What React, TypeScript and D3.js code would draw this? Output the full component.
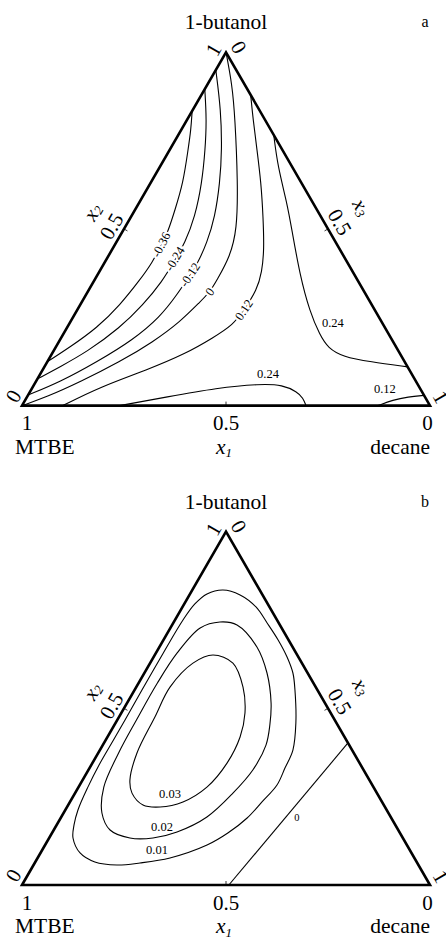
import React from 'react';
import * as d3 from 'd3';

// every point is a composition [x2 (1-butanol), x3 (decane)], x1 = 1 - x2 - x3

// panel a contour lines
const aLevelM036 = [[0.834, 0], [0.78, 0.024], [0.724, 0.045], [0.63, 0.08], [0.554, 0.098], [0.492, 0.112], [0.455, 0.114], [0.404, 0.117], [0.356, 0.111], [0.285, 0.098], [0.22, 0.074], [0.166, 0.035], [0.124, 0]];
const aLevelM024 = [[0.896, 0], [0.809, 0.048], [0.724, 0.087], [0.63, 0.126], [0.534, 0.157], [0.4605, 0.169], [0.412, 0.169], [0.35, 0.168], [0.285, 0.154], [0.22, 0.13], [0.152, 0.083], [0.1095, 0.038], [0.0756, 0]];
const aLevelM012 = [[0.95, 0], [0.837, 0.069], [0.724, 0.128], [0.63, 0.17], [0.534, 0.206], [0.4605, 0.223], [0.404, 0.229], [0.37, 0.227], [0.313, 0.223], [0.251, 0.213], [0.186, 0.179], [0.124, 0.122], [0.067, 0.06], [0.03, 0]];
const aLevel0 = [[1, 0], [0.908, 0.061], [0.817, 0.1135], [0.63, 0.214], [0.497, 0.2785], [0.421, 0.299], [0.356, 0.3], [0.322, 0.3], [0.2935, 0.2895], [0.237, 0.269], [0.18, 0.231], [0.124, 0.178], [0.067, 0.109], [0.0246, 0.049], [0, 0]];
const aLevel012 = [[0.879, 0.121], [0.809, 0.162], [0.724, 0.214], [0.63, 0.271], [0.534, 0.324], [0.441, 0.373], [0.378, 0.399], [0.3275, 0.412], [0.271, 0.409], [0.228, 0.403], [0.192, 0.372], [0.149, 0.33], [0.101, 0.256], [0.053, 0.165], [0, 0.1]];
const aLevel024 = [[0.766, 0.234], [0.676, 0.289], [0.574, 0.3625], [0.497, 0.413], [0.37, 0.496], [0.265, 0.573], [0.2, 0.63], [0.163, 0.6685], [0.138, 0.718], [0.124, 0.791], [0.1095, 0.8905]];
const aLevel024Low = [[0, 0.24], [0.0246, 0.343], [0.05, 0.453], [0.0614, 0.553], [0.0586, 0.61], [0.0388, 0.655], [0.0218, 0.678], [0, 0.696]];
const aLevel012Low = [[0, 0.8725], [0.016, 0.901], [0.0246, 0.934], [0.029, 0.971]];

const aLabels = ['-0.36', '-0.24', '-0.12', '0', '0.12', '0.24', '0.24', '0.12'];
const aLabelAt = [[0.455, 0.114], [0.415, 0.1675], [0.37, 0.227], [0.322, 0.3], [0.271, 0.409], [0.234, 0.645], [0.0897, 0.558], [0.047, 0.866]];

// panel b contour lines (three closed loops and one straight zero line)
const bLevel001 = [[0.835, 0.075], [0.821, 0.124], [0.787, 0.18], [0.7416, 0.23], [0.6935, 0.281], [0.6453, 0.327], [0.6, 0.364], [0.552, 0.393], [0.4585, 0.442], [0.382, 0.473], [0.331, 0.479], [0.283, 0.4835], [0.235, 0.4707], [0.1896, 0.457], [0.147, 0.431], [0.113, 0.397], [0.0764, 0.3245], [0.0623, 0.258], [0.0566, 0.2045], [0.0651, 0.146], [0.0906, 0.097], [0.133, 0.0585], [0.17, 0.0425], [0.2123, 0.031], [0.277, 0.023], [0.3397, 0.019], [0.4104, 0.019], [0.467, 0.019], [0.552, 0.018], [0.6567, 0.018], [0.75, 0.0196], [0.7954, 0.026], [0.8237, 0.0416]];
const bLevel002 = [[0.7444, 0.113], [0.736, 0.159], [0.6736, 0.239], [0.6, 0.3005], [0.515, 0.353], [0.453, 0.381], [0.396, 0.4], [0.3255, 0.403], [0.26, 0.387], [0.1925, 0.357], [0.15, 0.305], [0.133, 0.2545], [0.133, 0.198], [0.1557, 0.138], [0.2038, 0.094], [0.277, 0.062], [0.3736, 0.05], [0.467, 0.047], [0.5717, 0.046], [0.6567, 0.052], [0.7274, 0.073]];
const bLevel003 = [[0.651, 0.1427], [0.628, 0.203], [0.56, 0.2617], [0.487, 0.303], [0.419, 0.325], [0.345, 0.33], [0.277, 0.3147], [0.235, 0.277], [0.2208, 0.228], [0.2264, 0.1834], [0.26, 0.1396], [0.297, 0.116], [0.3736, 0.095], [0.4755, 0.088], [0.56, 0.0827], [0.628, 0.105]];
const bLevel0 = [[0, 0.507], [0.402, 0.598]];

const bLabels = ['0.03', '0.02', '0.01', '0'];
const bLabelAt = [[0.2576, 0.234], [0.164, 0.261], [0.099, 0.2814], [0.191, 0.578]];

const tickValues = [0, 0.5, 1];
const tickText = ['0', '0.5', '1'];

const SIDE = 408;
const LEFT = 22;
const H = (SIDE * Math.sqrt(3)) / 2;
const serif = "'Liberation Serif', 'DejaVu Serif', 'Times New Roman', serif";

type Pt = number[];
type Contour = { points: Pt[]; closed?: boolean; label: string; at: Pt; along?: boolean; size?: number };

const aContours: Contour[] = [
  { points: aLevelM036, label: aLabels[0], at: aLabelAt[0], along: true },
  { points: aLevelM024, label: aLabels[1], at: aLabelAt[1], along: true },
  { points: aLevelM012, label: aLabels[2], at: aLabelAt[2], along: true },
  { points: aLevel0, label: aLabels[3], at: aLabelAt[3], along: true },
  { points: aLevel012, label: aLabels[4], at: aLabelAt[4], along: true },
  { points: aLevel024, label: aLabels[5], at: aLabelAt[5] },
  { points: aLevel024Low, label: aLabels[6], at: aLabelAt[6] },
  { points: aLevel012Low, label: aLabels[7], at: aLabelAt[7] },
];

const bContours: Contour[] = [
  { points: bLevel003, closed: true, label: bLabels[0], at: bLabelAt[0] },
  { points: bLevel002, closed: true, label: bLabels[1], at: bLabelAt[1] },
  { points: bLevel001, closed: true, label: bLabels[2], at: bLabelAt[2] },
  { points: bLevel0, label: bLabels[3], at: bLabelAt[3], size: 10.5 },
];

const Panel = ({ base, letter, contours }: { base: number; letter: string; contours: Contour[] }) => {
  const x = d3.scaleLinear().domain([0, 1]).range([LEFT, LEFT + SIDE]);
  const y = d3.scaleLinear().domain([0, 1]).range([base, base - H]);
  const proj = (d: Pt): [number, number] => [x(d[1] + d[0] / 2), y(d[0])];

  const openLine = d3.line<Pt>().x(d => proj(d)[0]).y(d => proj(d)[1]).curve(d3.curveBasis);
  const closedLine = d3.line<Pt>().x(d => proj(d)[0]).y(d => proj(d)[1]).curve(d3.curveCatmullRomClosed.alpha(0.5));

  const angleAt = (pts: Pt[], at: Pt) => {
    const pp = pts.map(proj);
    const c = proj(at);
    let bi = 0;
    let bd = Infinity;
    pp.forEach((p, i) => {
      const dd = (p[0] - c[0]) ** 2 + (p[1] - c[1]) ** 2;
      if (dd < bd) { bd = dd; bi = i; }
    });
    const a = pp[Math.max(0, bi - 1)];
    const b = pp[Math.min(pp.length - 1, bi + 1)];
    let ang = (Math.atan2(b[1] - a[1], b[0] - a[0]) * 180) / Math.PI;
    if (ang > 90) ang -= 180;
    if (ang < -90) ang += 180;
    return ang;
  };

  const A = proj([0, 0]);
  const B = proj([1, 0]);
  const C = proj([0, 1]);
  const top = B[1];

  // outward normals and reading directions of the two slanted sides
  const nL = [-Math.sqrt(3) / 2, -0.5];
  const tL = [0.5, -Math.sqrt(3) / 2];
  const nR = [Math.sqrt(3) / 2, -0.5];
  const tR = [0.5, Math.sqrt(3) / 2];
  const off = (p: number[], n: number[], t: number[], d: number, a: number) => [p[0] + n[0] * d + t[0] * a, p[1] + n[1] * d + t[1] * a];

  const lMid = proj([0.5, 0]);
  const rMid = proj([0.5, 0.5]);
  const bMid = proj([0, 0.5]);
  const x2Pos = off(lMid, nL, tL, 36, -1);
  const x3Pos = off(rMid, nR, tR, 40, -2);

  return (
    <g style={{ fontFamily: serif }}>
      <text x={226} y={top - 23} fontSize={21.5} textAnchor="middle">1-butanol</text>
      <text x={425} y={top - 25} fontSize={16} textAnchor="middle">{letter}</text>

      {contours.map((c, i) => (
        <path key={i} d={(c.closed ? closedLine : openLine)(c.points) || ''} fill="none" stroke="#000" strokeWidth={1.1} />
      ))}
      {contours.map((c, i) => {
        const p = proj(c.at);
        const rot = c.along ? angleAt(c.points, c.at) : 0;
        return (
          <text key={i} transform={`translate(${p[0]},${p[1]}) rotate(${rot})`} fontSize={c.size || 12.5}
            textAnchor="middle" dominantBaseline="central"
            stroke={c.along ? '#fff' : 'none'} strokeWidth={4} paintOrder="stroke">{c.label}</text>
        );
      })}

      <path d={`M${A[0]},${A[1]}L${B[0]},${B[1]}L${C[0]},${C[1]}Z`} fill="none" stroke="#000" strokeWidth={2.6} strokeLinejoin="miter" />

      {/* ticks at 0.5 pointing inwards */}
      <line x1={bMid[0]} y1={bMid[1]} x2={bMid[0]} y2={bMid[1] - 4} stroke="#000" strokeWidth={0.8} />
      <line x1={lMid[0]} y1={lMid[1]} x2={lMid[0] - nL[0] * 4} y2={lMid[1] - nL[1] * 4} stroke="#000" strokeWidth={0.8} />
      <line x1={rMid[0]} y1={rMid[1]} x2={rMid[0] - nR[0] * 4} y2={rMid[1] - nR[1] * 4} stroke="#000" strokeWidth={0.8} />

      {/* x2 along the left side */}
      {tickValues.map((t, i) => {
        const p = off(proj([t, 0]), nL, tL, 12, t === 0 ? 4 : -4);
        return (
          <text key={'l' + i} transform={`translate(${p[0]},${p[1]}) rotate(-60)`} fontSize={21} textAnchor="middle" dominantBaseline="central">{tickText[i]}</text>
        );
      })}
      <text transform={`translate(${x2Pos[0]},${x2Pos[1]}) rotate(-60)`} fontSize={21} fontStyle="italic" textAnchor="middle" dominantBaseline="central">
        x<tspan fontSize={13} dy={4}>2</tspan>
      </text>

      {/* x3 along the right side */}
      {tickValues.map((t, i) => {
        const p = off(proj([1 - t, t]), nR, tR, 13.5, 2 - 4 * t);
        return (
          <text key={'r' + i} transform={`translate(${p[0]},${p[1]}) rotate(60)`} fontSize={21} textAnchor="middle" dominantBaseline="central">{tickText[i]}</text>
        );
      })}
      <text transform={`translate(${x3Pos[0]},${x3Pos[1]}) rotate(60)`} fontSize={21} fontStyle="italic" textAnchor="middle" dominantBaseline="central">
        x<tspan fontSize={13} dy={4}>3</tspan>
      </text>

      {/* x1 along the bottom */}
      {tickValues.map((v, i) => {
        const p = proj([0, 1 - v]);
        const dx = v === 1 ? 5 : v === 0 ? -2.5 : 0;
        return (
          <text key={'b' + i} x={p[0] + dx} y={base + 24.5} fontSize={21} textAnchor="middle">{tickText[i]}</text>
        );
      })}
      <text x={15} y={base + 48} fontSize={21.5}>MTBE</text>
      <text x={430} y={base + 48} fontSize={21.5} textAnchor="end">decane</text>
      <text x={224} y={base + 48} fontSize={21.5} fontStyle="italic" textAnchor="middle">
        x<tspan fontSize={13} dy={3.5}>1</tspan>
      </text>
    </g>
  );
};

export default function App() {
  return (
    <div style={{ position: 'absolute', left: 0, top: 0 }}>
      <svg width={446} height={939} viewBox="0 0 446 939" style={{ display: 'block', background: '#fff' }}>
        <Panel base={405.6} letter="a" contours={aContours} />
        <Panel base={885} letter="b" contours={bContours} />
      </svg>
    </div>
  );
}
